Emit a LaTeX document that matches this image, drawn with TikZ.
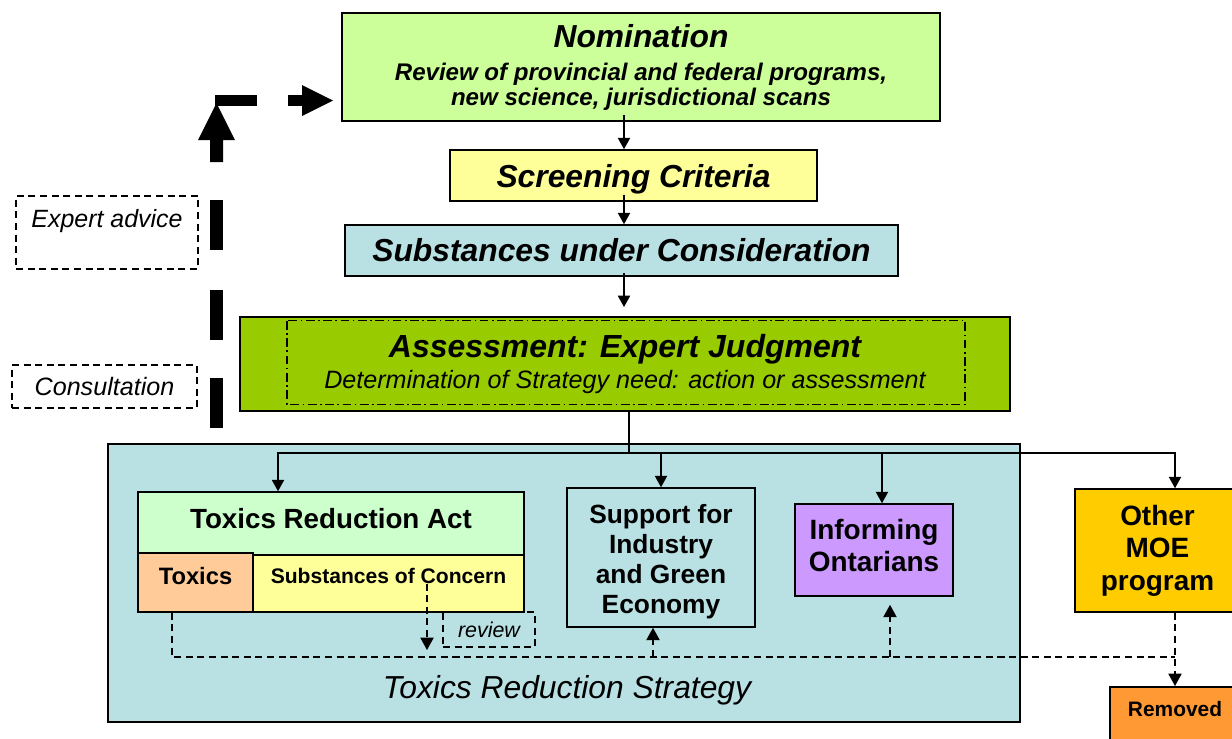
\documentclass[tikz,border=0pt]{standalone}
\usepackage{fontspec}
\setmainfont{Liberation Sans}
\usetikzlibrary{arrows.meta}

\definecolor{nomgreen}{RGB}{204,255,153}
\definecolor{paleyellow}{RGB}{255,255,153}
\definecolor{paleblue}{RGB}{185,224,227}
\definecolor{assgreen}{RGB}{153,204,0}
\definecolor{mintgreen}{RGB}{204,255,204}
\definecolor{peach}{RGB}{255,204,153}
\definecolor{lilac}{RGB}{204,153,255}
\definecolor{gold}{RGB}{255,204,0}
\definecolor{orangebox}{RGB}{255,153,51}

\newcommand\fsz[2]{\fontsize{#1}{#2}\selectfont}

\tikzset{
  box/.style={draw=black, line width=0.9pt, inner sep=0pt, align=center},
  flow/.style={line width=0.75pt, -{Triangle[length=6.5pt,width=7pt]}},
  dline/.style={line width=0.75pt, dash pattern=on 4pt off 2.6pt},
  dflow/.style={dline, -{Triangle[length=7pt,width=7.5pt]}},
  dbox/.style={draw, dline, inner sep=0pt},
}

\begin{document}
\begin{tikzpicture}[x=0.02cm, y=-0.02cm]
		\useasboundingbox (0,0) rectangle (1232,738);
		
		%%%%% strategy frame %%%%%
		\node[box, fill=paleblue, line width=1.1pt, minimum width=18.24cm, minimum height=5.56cm] (trs) at (564,583) {};
		\node[font=\fsz{18.1}{21}\itshape] (trsname) at (567,690) {Toxics Reduction Strategy};
		
		%%%%% side notes %%%%%
		\node[dbox, minimum width=3.64cm, text height=0.36cm, text depth=0.58cm, inner ysep=0.26cm, font=\fsz{14.2}{16}\itshape] (exp) at (107,232.5) {Expert advice};
		\node[dbox, minimum width=3.7cm, minimum height=0.86cm, font=\fsz{14.3}{16}\itshape] (con) at (104.5,386.5) {Consultation};
		
		% thick feedback arrow
		\fill (210,200) rectangle (223,250);
		\fill (210,290) rectangle (223,340);
		\fill (210,378) rectangle (223,428);
		\fill (210,162) -- (223,162) -- (223,140) -- (235,140) -- (216.5,103) -- (198,140) -- (210,140) -- cycle;
		\fill (215,95) rectangle (257,106);
		\fill (288,95) rectangle (302,106);
		\fill (302,85) -- (333,100.5) -- (302,116) -- cycle;
		
		%%%%% top chain %%%%%
		\node[box, fill=nomgreen, minimum width=11.96cm, minimum height=2.16cm, font=\fsz{13.7}{14.2}\bfseries\itshape] (nom) at (641,67)
			{{\fsz{18.1}{21}Nomination}\\[4.6pt]Review of provincial and federal programs,\\new science, jurisdictional scans};
		\node[box, fill=paleyellow, minimum width=7.34cm, minimum height=1.02cm, font=\fsz{18.1}{21}\bfseries\itshape, text depth=0pt] (scr) at (633.5,175.5) {Screening Criteria};
		\node[box, fill=paleblue, minimum width=11.06cm, minimum height=1.02cm, font=\fsz{18.1}{21}\bfseries\itshape] (sub) at (621.5,250.5) {Substances under Consideration};
		\node[box, fill=assgreen, line width=1.4pt, minimum width=15.4cm, minimum height=1.88cm, font=\fsz{14.3}{15}\itshape] (ass) at (625,364)
			{{\fsz{18.2}{21}\bfseries Assessment: Expert Judgment}\\[2.4pt]Determination of Strategy need: action or assessment};
		\draw[line width=0.8pt, dash pattern=on 5pt off 2pt on 0.9pt off 2pt] ([xshift=0.96cm,yshift=-0.1cm]ass.north west) rectangle ([xshift=-0.92cm,yshift=0.16cm]ass.south east);
		
		%%%%% programs %%%%%
		\node[dbox, minimum width=1.84cm, minimum height=0.7cm, font=\fsz{12.2}{14}\itshape] (rev) at (489,629.5) {review};
		\node[box, fill=mintgreen, minimum width=7.72cm, minimum height=1.26cm, font=\fsz{15.8}{18}\bfseries, text depth=6pt] (tra) at (331,523.5) {Toxics Reduction Act};
		\node[box, fill=peach, minimum width=2.3cm, minimum height=1.18cm, font=\fsz{13.5}{16}\bfseries, text depth=7.4pt] (tox) at (195.5,582.5) {Toxics};
		\node[box, fill=paleyellow, minimum width=5.42cm, minimum height=1.14cm, font=\fsz{12}{14}\bfseries, text depth=8.5pt] (soc) at (388.5,583.5) {Substances of Concern};
		\node[box, fill=paleblue, minimum width=3.76cm, minimum height=2.78cm, font=\fsz{15}{17.2}\bfseries] (sup) at (661,557.5) {\rule{0pt}{15.5pt}Support for\\Industry\\and Green\\Economy};
		\node[box, fill=lilac, minimum width=3.16cm, minimum height=1.84cm, font=\fsz{15.9}{18.2}\bfseries] (inf) at (874,550) {Informing\\Ontarians\rule[-5.7pt]{0pt}{0pt}};
		\node[box, fill=gold, minimum width=3.3cm, minimum height=2.46cm, font=\fsz{15.9}{18.5}\bfseries] (oth) at (1157.5,550.5) {Other\\MOE\\program};
		\node[box, fill=orangebox, anchor=north, minimum width=2.6cm, inner ysep=0.29cm, text height=0.3cm, text depth=0.5cm, font=\fsz{11.9}{14}\bfseries] (rem) at (1175,686) {Removed};
		
		%%%%% connectors %%%%%
		\coordinate (axis) at (624,0);
		\draw[flow, shorten <=-4pt] (nom.south -| axis) -- (scr.north -| axis);
		\draw[flow, shorten <=-4pt] (scr.south -| axis) -- (sub.north -| axis);
		\draw[flow, shorten <=-2pt, shorten >=5pt] (sub.south -| axis) -- (ass.north -| axis);
		
		\coordinate (split) at (629,453);
		\draw[line width=0.75pt] (ass.south -| split) -- (split);
		\draw[flow] (split) -| ([xshift=-1.06cm]tra.north);
		\draw[flow] (split) -| (sup.north);
		\draw[flow] (split) -| ([xshift=0.16cm]inf.north);
		\draw[flow] (split) -| ([xshift=0.35cm]oth.north);
		
		\coordinate (jn) at (1175,657);
		\coordinate (socdrop) at (427,650);
		\coordinate (supin) at ([xshift=-0.16cm]sup.south);
		\coordinate (infin) at ([xshift=0.32cm,yshift=-0.16cm]inf.south);
		\draw[dline] ([xshift=-0.47cm]tox.south) |- (jn);
		\draw[dflow] (soc.center -| socdrop) -- (socdrop);
		\draw[dflow] (supin |- jn) -- (supin);
		\draw[dflow] (infin |- jn) -- (infin);
		\draw[dflow] (oth.south -| jn) -- (rem.north -| jn);
		
\end{tikzpicture}
\end{document}
